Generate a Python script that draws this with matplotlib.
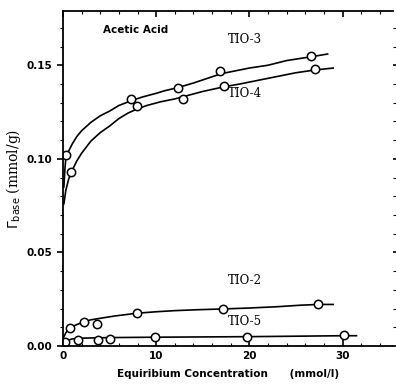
"""Acetic acid adsorption isotherms on TIO samples."""
import numpy as np
import matplotlib; matplotlib.use("Agg")
import matplotlib.pyplot as plt
from matplotlib.ticker import MultipleLocator

tio3_x = [0.3, 7.3, 12.3, 16.9, 26.6]
tio3_y = [0.102, 0.132, 0.138, 0.147, 0.155]
tio4_x = [0.9, 7.9, 12.9, 17.3, 27.1]
tio4_y = [0.093, 0.128, 0.132, 0.139, 0.148]
tio2_x = [0.75, 2.3, 3.6, 7.9, 17.2, 27.4]
tio2_y = [0.0097, 0.013, 0.012, 0.0177, 0.020, 0.0225]
tio5_x = [0.2, 1.6, 3.8, 5.0, 9.9, 19.7, 30.2]
tio5_y = [0.002, 0.003, 0.003, 0.004, 0.0047, 0.005, 0.006]

# hand-drawn fit curves
c3_x = [0.1, 0.2, 0.3, 0.6, 1, 1.5, 2, 3, 4, 5, 6, 7.3, 8.5, 10, 11, 12.3,
        14, 15.5, 17, 18.5, 20, 22, 24, 26.6, 28.4]
c3_y = [0.085, 0.094, 0.100, 0.104, 0.108, 0.112, 0.115, 0.1195, 0.123, 0.1255,
        0.1285, 0.1310, 0.1330, 0.1350, 0.1365, 0.1380, 0.1405, 0.1430, 0.1455,
        0.1470, 0.1485, 0.1500, 0.1525, 0.1545, 0.1560]
c4_x = [0.1, 0.3, 0.6, 0.9, 1.5, 2, 3, 4, 5, 6, 7, 7.9, 9, 10.5, 12, 13.5,
        15, 17.3, 19, 21, 23, 25, 27.1, 29]
c4_y = [0.076, 0.083, 0.089, 0.093, 0.099, 0.103, 0.1095, 0.114, 0.1175, 0.1215,
        0.1245, 0.1265, 0.1285, 0.1305, 0.1320, 0.1340, 0.1360, 0.1385, 0.1400,
        0.1420, 0.1440, 0.1460, 0.1475, 0.1485]
c2_x = [0.0, 0.3, 0.75, 1.5, 2.3, 3, 4, 5.5, 7.9, 10, 12, 14.5, 17.2, 20,
        23, 25.5, 27.4, 29]
c2_y = [0.004, 0.007, 0.0097, 0.0115, 0.0130, 0.0140, 0.0148, 0.0160, 0.0175,
        0.0183, 0.0189, 0.0194, 0.0198, 0.0203, 0.0210, 0.0218, 0.0222, 0.0222]
c5_x = [0.0, 0.5, 1, 2, 3, 5, 10, 20, 30.2, 31.5]
c5_y = [0.0005, 0.003, 0.0038, 0.0042, 0.0043, 0.0045, 0.0047, 0.0050, 0.0055, 0.0055]

labels = ["TIO-3", "TIO-4", "TIO-2", "TIO-5"]
label_x = [19.5, 19.5, 19.5, 19.5]
label_y = [0.164, 0.135, 0.035, 0.013]

fig = plt.figure(figsize=(3.96, 3.86), dpi=100)
ax = fig.add_axes([0.159, 0.1036, 0.833, 0.868])

for cx, cy in [(c3_x, c3_y), (c4_x, c4_y), (c2_x, c2_y), (c5_x, c5_y)]:
    ax.plot(cx, cy, color="black", lw=1.2, solid_joinstyle="round")
for px, py in [(tio3_x, tio3_y), (tio4_x, tio4_y), (tio2_x, tio2_y), (tio5_x, tio5_y)]:
    ax.plot(px, py, "o", ms=6, mfc="white", mec="black", mew=1.1)

for t, lx, ly in zip(labels, label_x, label_y):
    ax.text(lx, ly, t, ha="center", va="center", fontsize=8.5, family="serif")
ax.text(7.8, 0.169, "Acetic Acid", ha="center", va="center", fontsize=7.5, fontweight="bold")

ax.set_xlim(0, 35.4)
ax.set_ylim(0, 0.179)
ax.xaxis.set_major_locator(MultipleLocator(10))
ax.xaxis.set_minor_locator(MultipleLocator(2))
ax.yaxis.set_major_locator(MultipleLocator(0.05))
ax.yaxis.set_minor_locator(MultipleLocator(0.01))
ax.yaxis.set_major_formatter(plt.FuncFormatter(lambda v, p: f"{v:.2f}"))
ax.tick_params(axis="x", which="both", direction="in", top=True, labelsize=7.5)
ax.tick_params(axis="y", which="both", direction="out", right=True, labelsize=7.5)
ax.tick_params(which="major", length=4, width=1.2)
ax.tick_params(which="minor", length=2.5, width=0.8)
for lbl in ax.get_xticklabels() + ax.get_yticklabels():
    lbl.set_fontweight("bold")
ax.spines["right"].set_visible(False)
for s in ["left", "bottom", "top"]:
    ax.spines[s].set_linewidth(1.3)

ax.set_xlabel("Equiribium Concentration      (mmol/l)", fontsize=7.5, fontweight="bold", labelpad=6)
ax.set_ylabel(r"$\Gamma_{\rm base}$ (mmol/g)", fontsize=10, family="serif", labelpad=3)

plt.savefig("out.png", dpi=100)
plt.close()
